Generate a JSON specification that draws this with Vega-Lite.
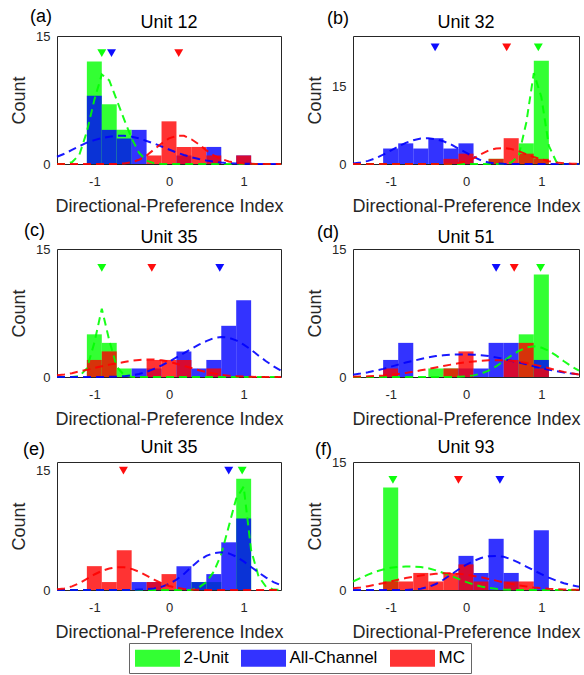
{
"$schema": "https://vega.github.io/schema/vega-lite/v6.json",
"padding": {"left": 10, "top": 7, "right": 0, "bottom": 0},
"background": "white",
"datasets": {
"bars": [
{"p":"a","lo":-1.1,"hi":-0.9,"G":12,"B":8},
{"p":"a","lo":-0.9,"hi":-0.7,"G":7,"B":4},
{"p":"a","lo":-0.7,"hi":-0.5,"G":4,"B":3},
{"p":"a","lo":-0.5,"hi":-0.3,"B":4},
{"p":"a","lo":-0.3,"hi":-0.1,"R":1},
{"p":"a","lo":-0.1,"hi":0.1,"R":5},
{"p":"a","lo":0.1,"hi":0.3,"B":1,"R":2},
{"p":"a","lo":0.3,"hi":0.5,"R":2},
{"p":"a","lo":0.5,"hi":0.7,"B":2,"R":1},
{"p":"a","lo":0.9,"hi":1.1,"B":1,"R":1},
{"p":"b","lo":-1.1,"hi":-0.9,"B":3},
{"p":"b","lo":-0.9,"hi":-0.7,"B":4},
{"p":"b","lo":-0.7,"hi":-0.5,"B":3},
{"p":"b","lo":-0.5,"hi":-0.3,"B":5},
{"p":"b","lo":-0.3,"hi":-0.1,"B":3,"R":1},
{"p":"b","lo":-0.1,"hi":0.1,"B":4,"R":2},
{"p":"b","lo":0.3,"hi":0.5,"G":1,"R":1},
{"p":"b","lo":0.5,"hi":0.7,"R":5},
{"p":"b","lo":0.7,"hi":0.9,"G":4,"R":2},
{"p":"b","lo":0.9,"hi":1.1,"G":20,"R":1},
{"p":"c","lo":-1.1,"hi":-0.9,"G":5,"R":2},
{"p":"c","lo":-0.9,"hi":-0.7,"G":4,"R":3},
{"p":"c","lo":-0.7,"hi":-0.5,"G":1},
{"p":"c","lo":-0.5,"hi":-0.3,"B":1},
{"p":"c","lo":-0.3,"hi":-0.1,"B":1,"R":2},
{"p":"c","lo":-0.1,"hi":0.1,"R":2},
{"p":"c","lo":0.1,"hi":0.3,"B":3,"R":2},
{"p":"c","lo":0.3,"hi":0.5,"B":1},
{"p":"c","lo":0.5,"hi":0.7,"B":2,"R":1},
{"p":"c","lo":0.7,"hi":0.9,"B":6},
{"p":"c","lo":0.9,"hi":1.1,"B":9},
{"p":"d","lo":-1.1,"hi":-0.9,"B":2,"R":1},
{"p":"d","lo":-0.9,"hi":-0.7,"B":4},
{"p":"d","lo":-0.5,"hi":-0.3,"G":1},
{"p":"d","lo":-0.3,"hi":-0.1,"G":1,"R":1},
{"p":"d","lo":-0.1,"hi":0.1,"B":1,"R":3},
{"p":"d","lo":0.1,"hi":0.3,"B":1},
{"p":"d","lo":0.3,"hi":0.5,"B":4},
{"p":"d","lo":0.5,"hi":0.7,"B":4,"R":2},
{"p":"d","lo":0.7,"hi":0.9,"G":5,"R":4},
{"p":"d","lo":0.9,"hi":1.1,"G":12,"B":2,"R":1},
{"p":"e","lo":-1.1,"hi":-0.9,"R":3},
{"p":"e","lo":-0.9,"hi":-0.7,"R":1},
{"p":"e","lo":-0.7,"hi":-0.5,"R":5},
{"p":"e","lo":-0.5,"hi":-0.3,"B":1},
{"p":"e","lo":-0.3,"hi":-0.1,"B":1,"R":1},
{"p":"e","lo":-0.1,"hi":0.1,"R":2},
{"p":"e","lo":0.1,"hi":0.3,"B":3},
{"p":"e","lo":0.3,"hi":0.5,"G":1,"B":1},
{"p":"e","lo":0.5,"hi":0.7,"G":1,"B":2},
{"p":"e","lo":0.7,"hi":0.9,"B":6},
{"p":"e","lo":0.9,"hi":1.1,"G":14,"B":9},
{"p":"f","lo":-1.1,"hi":-0.9,"G":12,"R":1},
{"p":"f","lo":-0.9,"hi":-0.7,"R":1},
{"p":"f","lo":-0.7,"hi":-0.5,"R":2},
{"p":"f","lo":-0.5,"hi":-0.3,"R":1},
{"p":"f","lo":-0.3,"hi":-0.1,"R":2},
{"p":"f","lo":-0.1,"hi":0.1,"B":4,"R":3},
{"p":"f","lo":0.1,"hi":0.3,"B":2,"R":1},
{"p":"f","lo":0.3,"hi":0.5,"B":6},
{"p":"f","lo":0.5,"hi":0.7,"B":2,"R":1},
{"p":"f","lo":0.7,"hi":0.9,"R":1},
{"p":"f","lo":0.9,"hi":1.1,"B":7}
],
"curves": [
{"p":"a","x":-1.5,"G":0,"B":0.85,"R":0},
{"p":"a","x":-1.4,"G":0,"B":1.2,"R":0},
{"p":"a","x":-1.3,"G":0.2,"B":1.65,"R":0},
{"p":"a","x":-1.2,"G":1.1,"B":2.1,"R":0},
{"p":"a","x":-1.1,"G":3.8,"B":2.5,"R":0},
{"p":"a","x":-1.0,"G":7.5,"B":2.8,"R":0},
{"p":"a","x":-0.9,"G":10.5,"B":3.05,"R":0},
{"p":"a","x":-0.8,"G":9.8,"B":3.2,"R":0},
{"p":"a","x":-0.7,"G":7.5,"B":3.3,"R":0},
{"p":"a","x":-0.6,"G":5.2,"B":3.3,"R":0.07},
{"p":"a","x":-0.5,"G":3,"B":3.2,"R":0.2},
{"p":"a","x":-0.4,"G":1.3,"B":3.0,"R":0.5},
{"p":"a","x":-0.3,"G":0.4,"B":2.7,"R":1.0},
{"p":"a","x":-0.2,"G":0.1,"B":2.4,"R":1.7},
{"p":"a","x":-0.1,"G":0,"B":2.05,"R":2.4},
{"p":"a","x":0,"G":0,"B":1.7,"R":3.0},
{"p":"a","x":0.1,"G":0,"B":1.35,"R":3.3},
{"p":"a","x":0.2,"G":0,"B":1.05,"R":3.3},
{"p":"a","x":0.3,"G":0,"B":0.8,"R":2.9},
{"p":"a","x":0.4,"G":0,"B":0.58,"R":2.3},
{"p":"a","x":0.5,"G":0,"B":0.4,"R":1.6},
{"p":"a","x":0.6,"G":0,"B":0.27,"R":1.0},
{"p":"a","x":0.7,"G":0,"B":0.17,"R":0.6},
{"p":"a","x":0.8,"G":0,"B":0.1,"R":0.3},
{"p":"a","x":0.9,"G":0,"B":0.06,"R":0.13},
{"p":"a","x":1.0,"G":0,"B":0.03,"R":0.05},
{"p":"a","x":1.1,"G":0,"B":0.02,"R":0.02},
{"p":"a","x":1.2,"G":0,"B":0,"R":0},
{"p":"a","x":1.3,"G":0,"B":0,"R":0},
{"p":"a","x":1.4,"G":0,"B":0,"R":0},
{"p":"a","x":1.5,"G":0,"B":0,"R":0},
{"p":"b","x":-1.5,"G":0,"B":0.1,"R":0},
{"p":"b","x":-1.4,"G":0,"B":0.3,"R":0},
{"p":"b","x":-1.3,"G":0,"B":0.6,"R":0},
{"p":"b","x":-1.2,"G":0,"B":1.1,"R":0},
{"p":"b","x":-1.1,"G":0,"B":1.8,"R":0},
{"p":"b","x":-1.0,"G":0,"B":2.6,"R":0},
{"p":"b","x":-0.9,"G":0,"B":3.4,"R":0},
{"p":"b","x":-0.8,"G":0,"B":4.1,"R":0},
{"p":"b","x":-0.7,"G":0,"B":4.6,"R":0},
{"p":"b","x":-0.6,"G":0,"B":4.95,"R":0},
{"p":"b","x":-0.5,"G":0,"B":5.0,"R":0},
{"p":"b","x":-0.4,"G":0,"B":4.8,"R":0},
{"p":"b","x":-0.3,"G":0,"B":4.4,"R":0},
{"p":"b","x":-0.2,"G":0,"B":3.8,"R":0.05},
{"p":"b","x":-0.1,"G":0,"B":3.0,"R":0.2},
{"p":"b","x":0,"G":0,"B":2.2,"R":0.5},
{"p":"b","x":0.1,"G":0,"B":1.4,"R":1.1},
{"p":"b","x":0.2,"G":0,"B":0.7,"R":1.9},
{"p":"b","x":0.3,"G":0,"B":0.3,"R":2.6},
{"p":"b","x":0.4,"G":0,"B":0.1,"R":3.0},
{"p":"b","x":0.5,"G":0.05,"B":0.03,"R":3.1},
{"p":"b","x":0.6,"G":0.3,"B":0,"R":2.9},
{"p":"b","x":0.7,"G":1.6,"B":0,"R":2.5},
{"p":"b","x":0.8,"G":8,"B":0,"R":1.9},
{"p":"b","x":0.9,"G":17.6,"B":0,"R":1.35},
{"p":"b","x":1.0,"G":13,"B":0,"R":0.9},
{"p":"b","x":1.1,"G":3.5,"B":0,"R":0.55},
{"p":"b","x":1.2,"G":0.4,"B":0,"R":0.3},
{"p":"b","x":1.3,"G":0.05,"B":0,"R":0.15},
{"p":"b","x":1.4,"G":0,"B":0,"R":0.07},
{"p":"b","x":1.5,"G":0,"B":0,"R":0.03},
{"p":"c","x":-1.5,"G":0,"B":0,"R":0.2},
{"p":"c","x":-1.4,"G":0,"B":0,"R":0.3},
{"p":"c","x":-1.3,"G":0,"B":0,"R":0.45},
{"p":"c","x":-1.2,"G":0.1,"B":0,"R":0.65},
{"p":"c","x":-1.1,"G":1.0,"B":0,"R":0.85},
{"p":"c","x":-1.0,"G":4.0,"B":0,"R":1.05},
{"p":"c","x":-0.9,"G":8.0,"B":0,"R":1.25},
{"p":"c","x":-0.8,"G":4.3,"B":0.02,"R":1.45},
{"p":"c","x":-0.7,"G":1.2,"B":0.05,"R":1.6},
{"p":"c","x":-0.6,"G":0.2,"B":0.1,"R":1.75},
{"p":"c","x":-0.5,"G":0.02,"B":0.18,"R":1.9},
{"p":"c","x":-0.4,"G":0,"B":0.35,"R":2.0},
{"p":"c","x":-0.3,"G":0,"B":0.6,"R":2.05},
{"p":"c","x":-0.2,"G":0,"B":0.95,"R":2.05},
{"p":"c","x":-0.1,"G":0,"B":1.35,"R":1.95},
{"p":"c","x":0,"G":0,"B":1.8,"R":1.8},
{"p":"c","x":0.1,"G":0,"B":2.3,"R":1.55},
{"p":"c","x":0.2,"G":0,"B":2.8,"R":1.3},
{"p":"c","x":0.3,"G":0,"B":3.3,"R":1.05},
{"p":"c","x":0.4,"G":0,"B":3.8,"R":0.8},
{"p":"c","x":0.5,"G":0,"B":4.2,"R":0.58},
{"p":"c","x":0.6,"G":0,"B":4.55,"R":0.4},
{"p":"c","x":0.7,"G":0,"B":4.7,"R":0.26},
{"p":"c","x":0.8,"G":0,"B":4.6,"R":0.16},
{"p":"c","x":0.9,"G":0,"B":4.3,"R":0.1},
{"p":"c","x":1.0,"G":0,"B":3.8,"R":0.05},
{"p":"c","x":1.1,"G":0,"B":3.2,"R":0.03},
{"p":"c","x":1.2,"G":0,"B":2.5,"R":0},
{"p":"c","x":1.3,"G":0,"B":1.85,"R":0},
{"p":"c","x":1.4,"G":0,"B":1.25,"R":0},
{"p":"c","x":1.5,"G":0,"B":0.75,"R":0},
{"p":"d","x":-1.5,"G":0,"B":0.27,"R":0.03},
{"p":"d","x":-1.4,"G":0,"B":0.4,"R":0.05},
{"p":"d","x":-1.3,"G":0,"B":0.55,"R":0.08},
{"p":"d","x":-1.2,"G":0,"B":0.75,"R":0.12},
{"p":"d","x":-1.1,"G":0,"B":0.95,"R":0.18},
{"p":"d","x":-1.0,"G":0,"B":1.2,"R":0.26},
{"p":"d","x":-0.9,"G":0,"B":1.45,"R":0.36},
{"p":"d","x":-0.8,"G":0,"B":1.7,"R":0.48},
{"p":"d","x":-0.7,"G":0,"B":1.9,"R":0.62},
{"p":"d","x":-0.6,"G":0,"B":2.1,"R":0.78},
{"p":"d","x":-0.5,"G":0,"B":2.3,"R":0.95},
{"p":"d","x":-0.4,"G":0,"B":2.45,"R":1.12},
{"p":"d","x":-0.3,"G":0,"B":2.55,"R":1.3},
{"p":"d","x":-0.2,"G":0.01,"B":2.62,"R":1.45},
{"p":"d","x":-0.1,"G":0.03,"B":2.65,"R":1.6},
{"p":"d","x":0,"G":0.08,"B":2.65,"R":1.72},
{"p":"d","x":0.1,"G":0.19,"B":2.62,"R":1.82},
{"p":"d","x":0.2,"G":0.4,"B":2.55,"R":1.9},
{"p":"d","x":0.3,"G":0.75,"B":2.45,"R":1.95},
{"p":"d","x":0.4,"G":1.25,"B":2.3,"R":1.97},
{"p":"d","x":0.5,"G":1.85,"B":2.1,"R":1.95},
{"p":"d","x":0.6,"G":2.5,"B":1.9,"R":1.9},
{"p":"d","x":0.7,"G":3.05,"B":1.7,"R":1.8},
{"p":"d","x":0.8,"G":3.45,"B":1.5,"R":1.65},
{"p":"d","x":0.9,"G":3.6,"B":1.25,"R":1.45},
{"p":"d","x":1.0,"G":3.45,"B":1.05,"R":1.25},
{"p":"d","x":1.1,"G":3.05,"B":0.85,"R":1.02},
{"p":"d","x":1.2,"G":2.5,"B":0.68,"R":0.8},
{"p":"d","x":1.3,"G":1.85,"B":0.52,"R":0.6},
{"p":"d","x":1.4,"G":1.25,"B":0.4,"R":0.43},
{"p":"d","x":1.5,"G":0.75,"B":0.3,"R":0.3},
{"p":"e","x":-1.5,"G":0,"B":0,"R":0.08},
{"p":"e","x":-1.4,"G":0,"B":0,"R":0.2},
{"p":"e","x":-1.3,"G":0,"B":0,"R":0.45},
{"p":"e","x":-1.2,"G":0,"B":0,"R":0.85},
{"p":"e","x":-1.1,"G":0,"B":0,"R":1.4},
{"p":"e","x":-1.0,"G":0,"B":0,"R":1.95},
{"p":"e","x":-0.9,"G":0,"B":0,"R":2.4},
{"p":"e","x":-0.8,"G":0,"B":0,"R":2.7},
{"p":"e","x":-0.7,"G":0,"B":0,"R":2.85},
{"p":"e","x":-0.6,"G":0,"B":0,"R":2.85},
{"p":"e","x":-0.5,"G":0,"B":0.02,"R":2.65},
{"p":"e","x":-0.4,"G":0,"B":0.05,"R":2.3},
{"p":"e","x":-0.3,"G":0,"B":0.1,"R":1.8},
{"p":"e","x":-0.2,"G":0,"B":0.2,"R":1.3},
{"p":"e","x":-0.1,"G":0,"B":0.4,"R":0.85},
{"p":"e","x":0,"G":0,"B":0.75,"R":0.5},
{"p":"e","x":0.1,"G":0,"B":1.3,"R":0.27},
{"p":"e","x":0.2,"G":0,"B":2.0,"R":0.13},
{"p":"e","x":0.3,"G":0,"B":2.9,"R":0.06},
{"p":"e","x":0.4,"G":0.3,"B":3.7,"R":0.02},
{"p":"e","x":0.5,"G":1.0,"B":4.3,"R":0},
{"p":"e","x":0.6,"G":2.3,"B":4.65,"R":0},
{"p":"e","x":0.7,"G":4.5,"B":4.75,"R":0},
{"p":"e","x":0.8,"G":8,"B":4.6,"R":0},
{"p":"e","x":0.9,"G":11.5,"B":4.2,"R":0},
{"p":"e","x":1.0,"G":13,"B":3.6,"R":0},
{"p":"e","x":1.1,"G":5,"B":2.9,"R":0},
{"p":"e","x":1.2,"G":1.7,"B":2.2,"R":0},
{"p":"e","x":1.3,"G":0.4,"B":1.55,"R":0},
{"p":"e","x":1.4,"G":0.05,"B":1.0,"R":0},
{"p":"e","x":1.5,"G":0,"B":0.6,"R":0},
{"p":"f","x":-1.5,"G":1.0,"B":0,"R":0.2},
{"p":"f","x":-1.4,"G":1.4,"B":0,"R":0.3},
{"p":"f","x":-1.3,"G":1.8,"B":0,"R":0.45},
{"p":"f","x":-1.2,"G":2.15,"B":0,"R":0.62},
{"p":"f","x":-1.1,"G":2.4,"B":0,"R":0.8},
{"p":"f","x":-1.0,"G":2.6,"B":0,"R":1.0},
{"p":"f","x":-0.9,"G":2.7,"B":0,"R":1.2},
{"p":"f","x":-0.8,"G":2.75,"B":0,"R":1.4},
{"p":"f","x":-0.7,"G":2.75,"B":0.05,"R":1.55},
{"p":"f","x":-0.6,"G":2.7,"B":0.15,"R":1.7},
{"p":"f","x":-0.5,"G":2.55,"B":0.35,"R":1.8},
{"p":"f","x":-0.4,"G":2.3,"B":0.7,"R":1.9},
{"p":"f","x":-0.3,"G":2.0,"B":1.2,"R":1.95},
{"p":"f","x":-0.2,"G":1.65,"B":1.8,"R":1.95},
{"p":"f","x":-0.1,"G":1.3,"B":2.4,"R":1.9},
{"p":"f","x":0,"G":0.95,"B":2.95,"R":1.8},
{"p":"f","x":0.1,"G":0.65,"B":3.4,"R":1.65},
{"p":"f","x":0.2,"G":0.42,"B":3.75,"R":1.5},
{"p":"f","x":0.3,"G":0.25,"B":3.95,"R":1.3},
{"p":"f","x":0.4,"G":0.14,"B":4.0,"R":1.1},
{"p":"f","x":0.5,"G":0.07,"B":3.9,"R":0.9},
{"p":"f","x":0.6,"G":0.03,"B":3.6,"R":0.72},
{"p":"f","x":0.7,"G":0,"B":3.2,"R":0.55},
{"p":"f","x":0.8,"G":0,"B":2.75,"R":0.42},
{"p":"f","x":0.9,"G":0,"B":2.3,"R":0.3},
{"p":"f","x":1.0,"G":0,"B":1.85,"R":0.21},
{"p":"f","x":1.1,"G":0,"B":1.45,"R":0.14},
{"p":"f","x":1.2,"G":0,"B":1.1,"R":0.1},
{"p":"f","x":1.3,"G":0,"B":0.8,"R":0.06},
{"p":"f","x":1.4,"G":0,"B":0.55,"R":0.04},
{"p":"f","x":1.5,"G":0,"B":0.37,"R":0.02}
],
"means": [
{"p":"a","s":"G","x":-0.9,"y":13},
{"p":"a","s":"B","x":-0.77,"y":13},
{"p":"a","s":"R","x":0.13,"y":13},
{"p":"b","s":"B","x":-0.41,"y":22.6},
{"p":"b","s":"R","x":0.54,"y":22.6},
{"p":"b","s":"G","x":0.96,"y":22.6},
{"p":"c","s":"G","x":-0.9,"y":12.8},
{"p":"c","s":"R","x":-0.23,"y":12.8},
{"p":"c","s":"B","x":0.68,"y":12.8},
{"p":"d","s":"B","x":0.4,"y":12.8},
{"p":"d","s":"R","x":0.64,"y":12.8},
{"p":"d","s":"G","x":0.99,"y":12.8},
{"p":"e","s":"R","x":-0.61,"y":15},
{"p":"e","s":"B","x":0.8,"y":15},
{"p":"e","s":"G","x":0.98,"y":15},
{"p":"f","s":"G","x":-0.97,"y":12.9},
{"p":"f","s":"R","x":-0.1,"y":12.9},
{"p":"f","s":"B","x":0.45,"y":12.9}
],
"tags": [
{"p":"a","t":"(a)","u":"Unit 12"},{"p":"b","t":"(b)","u":"Unit 32"},{"p":"c","t":"(c)","u":"Unit 35"},
{"p":"d","t":"(d)","u":"Unit 51"},{"p":"e","t":"(e)","u":"Unit 35"},{"p":"f","t":"(f)","u":"Unit 93"}
]
},
"columns": 2,
"spacing": {"row": 85, "column": 72},
"bounds": "flush",
"concat": [
{"width": 224, "height": 128,
 "layer": [
  {"data": {"name": "bars"}, "transform": [{"filter": "datum.p == 'a'"}, {"fold": ["G","B","R"], "as": ["s","v"]}, {"filter": "isValid(datum.v)"}],
   "mark": {"type": "bar", "opacity": 0.8},
   "encoding": {
    "x": {"field": "lo", "type": "quantitative", "scale": {"domain": [-1.5, 1.5], "nice": false}, "axis": {"values": [-1, 0, 1], "labelExpr": "'' + datum.value", "title": "Directional-Preference Index"}},
    "x2": {"field": "hi"},
    "y": {"field": "v", "type": "quantitative", "scale": {"domain": [0, 15], "nice": false}, "axis": {"values": [0, 15], "title": "Count"}},
    "y2": {"datum": 0},
    "color": {"field": "s", "type": "nominal", "scale": {"domain": ["G","B","R"], "range": ["#00ff00","#0000ff","#ff0000"]}, "legend": {"title": null, "labelExpr": "datum.label == 'G' ? '2-Unit' : datum.label == 'B' ? 'All-Channel' : 'MC'"}}}},
  {"data": {"name": "curves"}, "transform": [{"filter": "datum.p == 'a'"}, {"fold": ["G","B","R"], "as": ["s","v"]}],
   "mark": {"type": "line", "strokeDash": [8, 5], "strokeWidth": 2, "opacity": 0.9},
   "encoding": {"x": {"field": "x", "type": "quantitative", "scale": {"domain": [-1.5, 1.5], "nice": false}}, "y": {"field": "v", "type": "quantitative", "scale": {"domain": [0, 15], "nice": false}}, "color": {"field": "s", "type": "nominal", "legend": null}}},
  {"data": {"name": "means"}, "transform": [{"filter": "datum.p == 'a'"}],
   "mark": {"type": "point", "shape": "triangle-down", "filled": true, "size": 80, "opacity": 0.95},
   "encoding": {"x": {"field": "x", "type": "quantitative", "scale": {"domain": [-1.5, 1.5], "nice": false}}, "y": {"field": "y", "type": "quantitative", "scale": {"domain": [0, 15], "nice": false}}, "color": {"field": "s", "type": "nominal", "legend": null}}},
  {"data": {"name": "tags"}, "transform": [{"filter": "datum.p == 'a'"}],
   "mark": {"type": "text", "align": "left", "baseline": "alphabetic", "dx": -27, "dy": -14, "fontSize": 18, "color": "black"},
   "encoding": {"x": {"datum": -1.5, "type": "quantitative", "scale": {"domain": [-1.5, 1.5], "nice": false}}, "y": {"datum": 15, "type": "quantitative", "scale": {"domain": [0, 15], "nice": false}}, "text": {"field": "t"}}},
  {"data": {"name": "tags"}, "transform": [{"filter": "datum.p == 'a'"}],
   "mark": {"type": "text", "align": "center", "baseline": "alphabetic", "dy": -8, "fontSize": 18, "color": "black"},
   "encoding": {"x": {"datum": 0, "type": "quantitative", "scale": {"domain": [-1.5, 1.5], "nice": false}}, "y": {"datum": 15, "type": "quantitative", "scale": {"domain": [0, 15], "nice": false}}, "text": {"field": "u"}}}
 ]},
{"width": 226, "height": 128,
 "layer": [
  {"data": {"name": "bars"}, "transform": [{"filter": "datum.p == 'b'"}, {"fold": ["G","B","R"], "as": ["s","v"]}, {"filter": "isValid(datum.v)"}],
   "mark": {"type": "bar", "opacity": 0.8},
   "encoding": {
    "x": {"field": "lo", "type": "quantitative", "scale": {"domain": [-1.5, 1.5], "nice": false}, "axis": {"values": [-1, 0, 1], "labelExpr": "'' + datum.value", "title": "Directional-Preference Index"}},
    "x2": {"field": "hi"},
    "y": {"field": "v", "type": "quantitative", "scale": {"domain": [0, 24.8], "nice": false}, "axis": {"values": [0, 15], "title": "Count"}},
    "y2": {"datum": 0},
    "color": {"field": "s", "type": "nominal", "scale": {"domain": ["G","B","R"], "range": ["#00ff00","#0000ff","#ff0000"]}, "legend": {"title": null, "labelExpr": "datum.label == 'G' ? '2-Unit' : datum.label == 'B' ? 'All-Channel' : 'MC'"}}}},
  {"data": {"name": "curves"}, "transform": [{"filter": "datum.p == 'b'"}, {"fold": ["G","B","R"], "as": ["s","v"]}],
   "mark": {"type": "line", "strokeDash": [8, 5], "strokeWidth": 2, "opacity": 0.9},
   "encoding": {"x": {"field": "x", "type": "quantitative", "scale": {"domain": [-1.5, 1.5], "nice": false}}, "y": {"field": "v", "type": "quantitative", "scale": {"domain": [0, 24.8], "nice": false}}, "color": {"field": "s", "type": "nominal", "legend": null}}},
  {"data": {"name": "means"}, "transform": [{"filter": "datum.p == 'b'"}],
   "mark": {"type": "point", "shape": "triangle-down", "filled": true, "size": 80, "opacity": 0.95},
   "encoding": {"x": {"field": "x", "type": "quantitative", "scale": {"domain": [-1.5, 1.5], "nice": false}}, "y": {"field": "y", "type": "quantitative", "scale": {"domain": [0, 24.8], "nice": false}}, "color": {"field": "s", "type": "nominal", "legend": null}}},
  {"data": {"name": "tags"}, "transform": [{"filter": "datum.p == 'b'"}],
   "mark": {"type": "text", "align": "left", "baseline": "alphabetic", "dx": -26, "dy": -12, "fontSize": 18, "color": "black"},
   "encoding": {"x": {"datum": -1.5, "type": "quantitative", "scale": {"domain": [-1.5, 1.5], "nice": false}}, "y": {"datum": 24.8, "type": "quantitative", "scale": {"domain": [0, 24.8], "nice": false}}, "text": {"field": "t"}}},
  {"data": {"name": "tags"}, "transform": [{"filter": "datum.p == 'b'"}],
   "mark": {"type": "text", "align": "center", "baseline": "alphabetic", "dy": -8, "fontSize": 18, "color": "black"},
   "encoding": {"x": {"datum": 0, "type": "quantitative", "scale": {"domain": [-1.5, 1.5], "nice": false}}, "y": {"datum": 24.8, "type": "quantitative", "scale": {"domain": [0, 24.8], "nice": false}}, "text": {"field": "u"}}}
 ]},
{"width": 224, "height": 128,
 "layer": [
  {"data": {"name": "bars"}, "transform": [{"filter": "datum.p == 'c'"}, {"fold": ["G","B","R"], "as": ["s","v"]}, {"filter": "isValid(datum.v)"}],
   "mark": {"type": "bar", "opacity": 0.8},
   "encoding": {
    "x": {"field": "lo", "type": "quantitative", "scale": {"domain": [-1.5, 1.5], "nice": false}, "axis": {"values": [-1, 0, 1], "labelExpr": "'' + datum.value", "title": "Directional-Preference Index"}},
    "x2": {"field": "hi"},
    "y": {"field": "v", "type": "quantitative", "scale": {"domain": [0, 15], "nice": false}, "axis": {"values": [0, 15], "title": "Count"}},
    "y2": {"datum": 0},
    "color": {"field": "s", "type": "nominal", "scale": {"domain": ["G","B","R"], "range": ["#00ff00","#0000ff","#ff0000"]}, "legend": {"title": null, "labelExpr": "datum.label == 'G' ? '2-Unit' : datum.label == 'B' ? 'All-Channel' : 'MC'"}}}},
  {"data": {"name": "curves"}, "transform": [{"filter": "datum.p == 'c'"}, {"fold": ["G","B","R"], "as": ["s","v"]}],
   "mark": {"type": "line", "strokeDash": [8, 5], "strokeWidth": 2, "opacity": 0.9},
   "encoding": {"x": {"field": "x", "type": "quantitative", "scale": {"domain": [-1.5, 1.5], "nice": false}}, "y": {"field": "v", "type": "quantitative", "scale": {"domain": [0, 15], "nice": false}}, "color": {"field": "s", "type": "nominal", "legend": null}}},
  {"data": {"name": "means"}, "transform": [{"filter": "datum.p == 'c'"}],
   "mark": {"type": "point", "shape": "triangle-down", "filled": true, "size": 80, "opacity": 0.95},
   "encoding": {"x": {"field": "x", "type": "quantitative", "scale": {"domain": [-1.5, 1.5], "nice": false}}, "y": {"field": "y", "type": "quantitative", "scale": {"domain": [0, 15], "nice": false}}, "color": {"field": "s", "type": "nominal", "legend": null}}},
  {"data": {"name": "tags"}, "transform": [{"filter": "datum.p == 'c'"}],
   "mark": {"type": "text", "align": "left", "baseline": "alphabetic", "dx": -33, "dy": -13, "fontSize": 18, "color": "black"},
   "encoding": {"x": {"datum": -1.5, "type": "quantitative", "scale": {"domain": [-1.5, 1.5], "nice": false}}, "y": {"datum": 15, "type": "quantitative", "scale": {"domain": [0, 15], "nice": false}}, "text": {"field": "t"}}},
  {"data": {"name": "tags"}, "transform": [{"filter": "datum.p == 'c'"}],
   "mark": {"type": "text", "align": "center", "baseline": "alphabetic", "dy": -6, "fontSize": 18, "color": "black"},
   "encoding": {"x": {"datum": 0, "type": "quantitative", "scale": {"domain": [-1.5, 1.5], "nice": false}}, "y": {"datum": 15, "type": "quantitative", "scale": {"domain": [0, 15], "nice": false}}, "text": {"field": "u"}}}
 ]},
{"width": 226, "height": 128,
 "layer": [
  {"data": {"name": "bars"}, "transform": [{"filter": "datum.p == 'd'"}, {"fold": ["G","B","R"], "as": ["s","v"]}, {"filter": "isValid(datum.v)"}],
   "mark": {"type": "bar", "opacity": 0.8},
   "encoding": {
    "x": {"field": "lo", "type": "quantitative", "scale": {"domain": [-1.5, 1.5], "nice": false}, "axis": {"values": [-1, 0, 1], "labelExpr": "'' + datum.value", "title": "Directional-Preference Index"}},
    "x2": {"field": "hi"},
    "y": {"field": "v", "type": "quantitative", "scale": {"domain": [0, 15], "nice": false}, "axis": {"values": [0, 15], "title": "Count"}},
    "y2": {"datum": 0},
    "color": {"field": "s", "type": "nominal", "scale": {"domain": ["G","B","R"], "range": ["#00ff00","#0000ff","#ff0000"]}, "legend": {"title": null, "labelExpr": "datum.label == 'G' ? '2-Unit' : datum.label == 'B' ? 'All-Channel' : 'MC'"}}}},
  {"data": {"name": "curves"}, "transform": [{"filter": "datum.p == 'd'"}, {"fold": ["G","B","R"], "as": ["s","v"]}],
   "mark": {"type": "line", "strokeDash": [8, 5], "strokeWidth": 2, "opacity": 0.9},
   "encoding": {"x": {"field": "x", "type": "quantitative", "scale": {"domain": [-1.5, 1.5], "nice": false}}, "y": {"field": "v", "type": "quantitative", "scale": {"domain": [0, 15], "nice": false}}, "color": {"field": "s", "type": "nominal", "legend": null}}},
  {"data": {"name": "means"}, "transform": [{"filter": "datum.p == 'd'"}],
   "mark": {"type": "point", "shape": "triangle-down", "filled": true, "size": 80, "opacity": 0.95},
   "encoding": {"x": {"field": "x", "type": "quantitative", "scale": {"domain": [-1.5, 1.5], "nice": false}}, "y": {"field": "y", "type": "quantitative", "scale": {"domain": [0, 15], "nice": false}}, "color": {"field": "s", "type": "nominal", "legend": null}}},
  {"data": {"name": "tags"}, "transform": [{"filter": "datum.p == 'd'"}],
   "mark": {"type": "text", "align": "left", "baseline": "alphabetic", "dx": -36, "dy": -11, "fontSize": 18, "color": "black"},
   "encoding": {"x": {"datum": -1.5, "type": "quantitative", "scale": {"domain": [-1.5, 1.5], "nice": false}}, "y": {"datum": 15, "type": "quantitative", "scale": {"domain": [0, 15], "nice": false}}, "text": {"field": "t"}}},
  {"data": {"name": "tags"}, "transform": [{"filter": "datum.p == 'd'"}],
   "mark": {"type": "text", "align": "center", "baseline": "alphabetic", "dy": -6, "fontSize": 18, "color": "black"},
   "encoding": {"x": {"datum": 0, "type": "quantitative", "scale": {"domain": [-1.5, 1.5], "nice": false}}, "y": {"datum": 15, "type": "quantitative", "scale": {"domain": [0, 15], "nice": false}}, "text": {"field": "u"}}}
 ]},
{"width": 224, "height": 128,
 "layer": [
  {"data": {"name": "bars"}, "transform": [{"filter": "datum.p == 'e'"}, {"fold": ["G","B","R"], "as": ["s","v"]}, {"filter": "isValid(datum.v)"}],
   "mark": {"type": "bar", "opacity": 0.8},
   "encoding": {
    "x": {"field": "lo", "type": "quantitative", "scale": {"domain": [-1.5, 1.5], "nice": false}, "axis": {"values": [-1, 0, 1], "labelExpr": "'' + datum.value", "title": "Directional-Preference Index"}},
    "x2": {"field": "hi"},
    "y": {"field": "v", "type": "quantitative", "scale": {"domain": [0, 16.1], "nice": false}, "axis": {"values": [0, 15], "title": "Count"}},
    "y2": {"datum": 0},
    "color": {"field": "s", "type": "nominal", "scale": {"domain": ["G","B","R"], "range": ["#00ff00","#0000ff","#ff0000"]}, "legend": {"title": null, "labelExpr": "datum.label == 'G' ? '2-Unit' : datum.label == 'B' ? 'All-Channel' : 'MC'"}}}},
  {"data": {"name": "curves"}, "transform": [{"filter": "datum.p == 'e'"}, {"fold": ["G","B","R"], "as": ["s","v"]}],
   "mark": {"type": "line", "strokeDash": [8, 5], "strokeWidth": 2, "opacity": 0.9},
   "encoding": {"x": {"field": "x", "type": "quantitative", "scale": {"domain": [-1.5, 1.5], "nice": false}}, "y": {"field": "v", "type": "quantitative", "scale": {"domain": [0, 16.1], "nice": false}}, "color": {"field": "s", "type": "nominal", "legend": null}}},
  {"data": {"name": "means"}, "transform": [{"filter": "datum.p == 'e'"}],
   "mark": {"type": "point", "shape": "triangle-down", "filled": true, "size": 80, "opacity": 0.95},
   "encoding": {"x": {"field": "x", "type": "quantitative", "scale": {"domain": [-1.5, 1.5], "nice": false}}, "y": {"field": "y", "type": "quantitative", "scale": {"domain": [0, 16.1], "nice": false}}, "color": {"field": "s", "type": "nominal", "legend": null}}},
  {"data": {"name": "tags"}, "transform": [{"filter": "datum.p == 'e'"}],
   "mark": {"type": "text", "align": "left", "baseline": "alphabetic", "dx": -34, "dy": -7, "fontSize": 18, "color": "black"},
   "encoding": {"x": {"datum": -1.5, "type": "quantitative", "scale": {"domain": [-1.5, 1.5], "nice": false}}, "y": {"datum": 16.1, "type": "quantitative", "scale": {"domain": [0, 16.1], "nice": false}}, "text": {"field": "t"}}},
  {"data": {"name": "tags"}, "transform": [{"filter": "datum.p == 'e'"}],
   "mark": {"type": "text", "align": "center", "baseline": "alphabetic", "dy": -9, "fontSize": 18, "color": "black"},
   "encoding": {"x": {"datum": 0, "type": "quantitative", "scale": {"domain": [-1.5, 1.5], "nice": false}}, "y": {"datum": 16.1, "type": "quantitative", "scale": {"domain": [0, 16.1], "nice": false}}, "text": {"field": "u"}}}
 ]},
{"width": 226, "height": 128,
 "layer": [
  {"data": {"name": "bars"}, "transform": [{"filter": "datum.p == 'f'"}, {"fold": ["G","B","R"], "as": ["s","v"]}, {"filter": "isValid(datum.v)"}],
   "mark": {"type": "bar", "opacity": 0.8},
   "encoding": {
    "x": {"field": "lo", "type": "quantitative", "scale": {"domain": [-1.5, 1.5], "nice": false}, "axis": {"values": [-1, 0, 1], "labelExpr": "'' + datum.value", "title": "Directional-Preference Index"}},
    "x2": {"field": "hi"},
    "y": {"field": "v", "type": "quantitative", "scale": {"domain": [0, 15], "nice": false}, "axis": {"values": [0, 15], "title": "Count"}},
    "y2": {"datum": 0},
    "color": {"field": "s", "type": "nominal", "scale": {"domain": ["G","B","R"], "range": ["#00ff00","#0000ff","#ff0000"]}, "legend": {"title": null, "labelExpr": "datum.label == 'G' ? '2-Unit' : datum.label == 'B' ? 'All-Channel' : 'MC'"}}}},
  {"data": {"name": "curves"}, "transform": [{"filter": "datum.p == 'f'"}, {"fold": ["G","B","R"], "as": ["s","v"]}],
   "mark": {"type": "line", "strokeDash": [8, 5], "strokeWidth": 2, "opacity": 0.9},
   "encoding": {"x": {"field": "x", "type": "quantitative", "scale": {"domain": [-1.5, 1.5], "nice": false}}, "y": {"field": "v", "type": "quantitative", "scale": {"domain": [0, 15], "nice": false}}, "color": {"field": "s", "type": "nominal", "legend": null}}},
  {"data": {"name": "means"}, "transform": [{"filter": "datum.p == 'f'"}],
   "mark": {"type": "point", "shape": "triangle-down", "filled": true, "size": 80, "opacity": 0.95},
   "encoding": {"x": {"field": "x", "type": "quantitative", "scale": {"domain": [-1.5, 1.5], "nice": false}}, "y": {"field": "y", "type": "quantitative", "scale": {"domain": [0, 15], "nice": false}}, "color": {"field": "s", "type": "nominal", "legend": null}}},
  {"data": {"name": "tags"}, "transform": [{"filter": "datum.p == 'f'"}],
   "mark": {"type": "text", "align": "left", "baseline": "alphabetic", "dx": -38, "dy": -7, "fontSize": 18, "color": "black"},
   "encoding": {"x": {"datum": -1.5, "type": "quantitative", "scale": {"domain": [-1.5, 1.5], "nice": false}}, "y": {"datum": 15, "type": "quantitative", "scale": {"domain": [0, 15], "nice": false}}, "text": {"field": "t"}}},
  {"data": {"name": "tags"}, "transform": [{"filter": "datum.p == 'f'"}],
   "mark": {"type": "text", "align": "center", "baseline": "alphabetic", "dy": -9, "fontSize": 18, "color": "black"},
   "encoding": {"x": {"datum": 0, "type": "quantitative", "scale": {"domain": [-1.5, 1.5], "nice": false}}, "y": {"datum": 15, "type": "quantitative", "scale": {"domain": [0, 15], "nice": false}}, "text": {"field": "u"}}}
 ]}
],
"config": {
 "font": "Liberation Sans",
 "view": {"stroke": "#262626", "strokeWidth": 1},
 "axis": {"grid": false, "domain": false, "ticks": false, "labelFontSize": 13, "titleFontSize": 18, "titleFontWeight": "normal", "labelColor": "#262626", "titleColor": "#262626", "labelFlush": false, "labelFont": "Liberation Sans", "titleFont": "Liberation Sans"},
 "axisX": {"labelPadding": 11, "titlePadding": 9},
 "axisY": {"labelPadding": 7, "titlePadding": 7},
 "text": {"font": "Liberation Sans"},
 "legend": {"orient": "none", "legendX": 72, "legendY": 607, "direction": "horizontal", "symbolType": "M-2.5,-0.95H2.5V0.95H-2.5Z", "symbolSize": 324, "symbolOffset": 13.5, "labelOffset": 17, "labelFontSize": 17, "labelFont": "Liberation Sans", "labelColor": "#000000", "strokeColor": "#666666", "padding": 6, "columnPadding": 12, "symbolStrokeWidth": 0}
}
}
